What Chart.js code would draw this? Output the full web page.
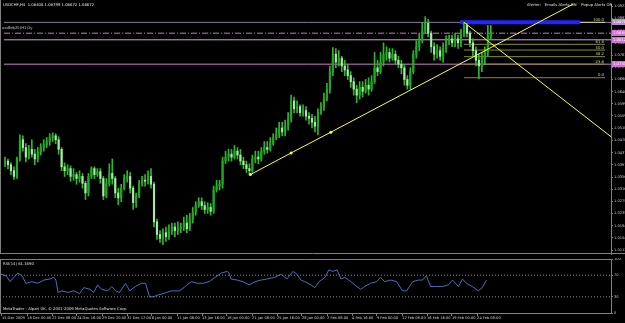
<!DOCTYPE html>
<html>
<head>
<meta charset="utf-8">
<script src="https://cdn.jsdelivr.net/npm/chart.js@4.4.1/dist/chart.umd.min.js"></script>
<style>
  html, body { margin: 0; padding: 0; background: #000; }
  #wrap { position: relative; width: 625px; height: 323px; overflow: hidden; background: #000; }
  #main { position: absolute; left: 0; top: 0; }
  #rsi { position: absolute; left: 0; top: 258px; }
</style>
</head>
<body>
<div id="wrap">
  <canvas id="main" width="625" height="258"></canvas>
  <canvas id="rsi" width="625" height="65"></canvas>
</div>
<script>
// USDCHF H4 candles (one entry per drawn bar)
const barOpen = [
  1.0400,1.0409,1.0397,1.0377,1.0358,1.0416,1.0480,1.0454,1.0422,1.0448,
  1.0432,1.0416,1.0438,1.0454,1.0464,1.0474,1.0487,1.0493,1.0480,1.0448,
  1.0390,1.0377,1.0384,1.0358,1.0364,1.0351,1.0358,1.0335,1.0303,1.0358,
  1.0384,1.0364,1.0374,1.0351,1.0293,1.0335,1.0368,1.0351,1.0303,1.0287,
  1.0319,1.0351,1.0358,1.0319,1.0271,1.0293,1.0335,1.0345,1.0342,1.0358,
  1.0332,1.0207,1.0165,1.0152,1.0171,1.0158,1.0174,1.0190,1.0178,1.0184,
  1.0190,1.0203,1.0184,1.0216,1.0239,1.0261,1.0274,1.0261,1.0248,1.0255,
  1.0242,1.0313,1.0326,1.0332,1.0409,1.0422,1.0432,1.0422,1.0442,1.0429,
  1.0409,1.0397,1.0384,1.0377,1.0416,1.0422,1.0416,1.0442,1.0454,1.0448,
  1.0467,1.0487,1.0496,1.0519,1.0506,1.0525,1.0551,1.0609,1.0583,1.0590,
  1.0570,1.0577,1.0558,1.0551,1.0538,1.0525,1.0570,1.0590,1.0615,1.0648,
  1.0706,1.0764,1.0738,1.0751,1.0725,1.0712,1.0693,1.0673,1.0648,1.0628,
  1.0654,1.0641,1.0661,1.0648,1.0673,1.0719,1.0706,1.0738,1.0764,1.0770,
  1.0751,1.0764,1.0744,1.0731,1.0719,1.0680,1.0661,1.0706,1.0764,1.0789,
  1.0809,1.0841,1.0867,1.0834,1.0789,1.0764,1.0776,1.0757,1.0783,1.0809,
  1.0815,1.0802,1.0815,1.0802,1.0834,1.0860,1.0834,1.0802,1.0776,1.0744,
  1.0725,1.0751,1.0770,1.0822
];
const barHigh = [
  1.0422,1.0416,1.0403,1.0390,1.0422,1.0496,1.0493,1.0467,1.0461,1.0480,
  1.0448,1.0454,1.0467,1.0480,1.0487,1.0500,1.0503,1.0500,1.0490,1.0454,
  1.0403,1.0397,1.0393,1.0384,1.0371,1.0377,1.0368,1.0342,1.0368,1.0390,
  1.0390,1.0384,1.0384,1.0358,1.0351,1.0400,1.0416,1.0358,1.0319,1.0332,
  1.0364,1.0377,1.0371,1.0326,1.0303,1.0345,1.0358,1.0364,1.0377,1.0384,
  1.0339,1.0216,1.0178,1.0184,1.0190,1.0197,1.0203,1.0203,1.0207,1.0203,
  1.0223,1.0229,1.0235,1.0255,1.0274,1.0287,1.0287,1.0274,1.0271,1.0268,
  1.0326,1.0345,1.0345,1.0422,1.0442,1.0448,1.0448,1.0461,1.0454,1.0448,
  1.0422,1.0409,1.0400,1.0429,1.0442,1.0442,1.0454,1.0474,1.0474,1.0487,
  1.0500,1.0519,1.0538,1.0538,1.0545,1.0570,1.0628,1.0622,1.0609,1.0596,
  1.0596,1.0590,1.0570,1.0564,1.0558,1.0583,1.0603,1.0635,1.0667,1.0725,
  1.0786,1.0783,1.0776,1.0757,1.0744,1.0731,1.0706,1.0686,1.0661,1.0673,
  1.0673,1.0680,1.0686,1.0693,1.0770,1.0744,1.0770,1.0802,1.0789,1.0783,
  1.0783,1.0776,1.0757,1.0744,1.0731,1.0693,1.0719,1.0776,1.0809,1.0834,
  1.0867,1.0889,1.0880,1.0841,1.0802,1.0796,1.0789,1.0802,1.0825,1.0828,
  1.0828,1.0834,1.0828,1.0847,1.0870,1.0867,1.0841,1.0815,1.0789,1.0764,
  1.0770,1.0789,1.0860,1.0860
];
const barLow = [
  1.0390,1.0384,1.0364,1.0348,1.0351,1.0409,1.0442,1.0406,1.0416,1.0422,
  1.0397,1.0406,1.0429,1.0442,1.0454,1.0461,1.0474,1.0467,1.0432,1.0377,
  1.0358,1.0364,1.0342,1.0345,1.0332,1.0339,1.0319,1.0281,1.0293,1.0351,
  1.0351,1.0358,1.0335,1.0281,1.0287,1.0326,1.0332,1.0287,1.0264,1.0274,
  1.0313,1.0339,1.0303,1.0248,1.0255,1.0287,1.0326,1.0326,1.0332,1.0319,
  1.0190,1.0149,1.0139,1.0132,1.0142,1.0149,1.0165,1.0158,1.0165,1.0171,
  1.0178,1.0171,1.0178,1.0203,1.0229,1.0255,1.0248,1.0235,1.0235,1.0229,
  1.0235,1.0306,1.0313,1.0319,1.0400,1.0409,1.0409,1.0416,1.0416,1.0397,
  1.0384,1.0371,1.0364,1.0371,1.0403,1.0400,1.0409,1.0432,1.0435,1.0442,
  1.0461,1.0480,1.0487,1.0493,1.0493,1.0512,1.0538,1.0570,1.0570,1.0558,
  1.0558,1.0545,1.0532,1.0519,1.0506,1.0496,1.0564,1.0577,1.0609,1.0635,
  1.0693,1.0719,1.0725,1.0706,1.0693,1.0680,1.0654,1.0628,1.0603,1.0615,
  1.0622,1.0635,1.0628,1.0641,1.0667,1.0693,1.0699,1.0725,1.0744,1.0738,
  1.0744,1.0731,1.0719,1.0699,1.0661,1.0648,1.0648,1.0699,1.0751,1.0776,
  1.0802,1.0834,1.0822,1.0770,1.0744,1.0751,1.0744,1.0738,1.0770,1.0796,
  1.0789,1.0789,1.0783,1.0789,1.0822,1.0822,1.0789,1.0757,1.0725,1.0683,
  1.0706,1.0731,1.0757,1.0815
];
const barClose = [
  1.0409,1.0397,1.0377,1.0358,1.0416,1.0480,1.0454,1.0422,1.0448,1.0432,
  1.0416,1.0438,1.0454,1.0464,1.0474,1.0487,1.0493,1.0480,1.0448,1.0390,
  1.0377,1.0384,1.0358,1.0364,1.0351,1.0358,1.0335,1.0303,1.0358,1.0384,
  1.0364,1.0374,1.0351,1.0293,1.0335,1.0368,1.0351,1.0303,1.0287,1.0319,
  1.0351,1.0358,1.0319,1.0271,1.0293,1.0335,1.0345,1.0342,1.0358,1.0332,
  1.0207,1.0165,1.0152,1.0171,1.0158,1.0174,1.0190,1.0178,1.0184,1.0190,
  1.0203,1.0184,1.0216,1.0239,1.0261,1.0274,1.0261,1.0248,1.0255,1.0242,
  1.0313,1.0326,1.0332,1.0409,1.0422,1.0432,1.0422,1.0442,1.0429,1.0409,
  1.0397,1.0384,1.0377,1.0416,1.0422,1.0416,1.0442,1.0454,1.0448,1.0467,
  1.0487,1.0496,1.0519,1.0506,1.0525,1.0551,1.0609,1.0583,1.0590,1.0570,
  1.0577,1.0558,1.0551,1.0538,1.0525,1.0570,1.0590,1.0615,1.0648,1.0706,
  1.0764,1.0738,1.0751,1.0725,1.0712,1.0693,1.0673,1.0648,1.0628,1.0654,
  1.0641,1.0661,1.0648,1.0673,1.0719,1.0706,1.0738,1.0764,1.0770,1.0751,
  1.0764,1.0744,1.0731,1.0719,1.0680,1.0661,1.0706,1.0764,1.0789,1.0809,
  1.0841,1.0867,1.0834,1.0789,1.0764,1.0776,1.0757,1.0783,1.0809,1.0815,
  1.0802,1.0815,1.0802,1.0834,1.0860,1.0834,1.0802,1.0776,1.0744,1.0725,
  1.0751,1.0770,1.0822,1.0834
];

// RSI(14) trace: bar position and value
const rsiBars = [0,1.7,3,4.3,5.6,7,8.3,10.3,12.3,14.3,16.3,17.6,18.3,19,20.3,22.3,24.2,26.2,27.6,29.6,
  30.9,32.2,33.5,35.5,36.9,38.2,39.5,41.5,42.9,44.8,46.8,48.2,49.5,50.8,52.1,54.1,56.8,59.5,61.4,63.4,
  65.4,67.4,69.4,71.4,73.4,75.4,76,76.7,78.7,80.7,82.7,84.7,86.7,88.7,91.3,93.3,95.3,97.3,98.6,100,
  101.3,103.3,104.6,106,108,109.3,110.6,112,113.3,114.6,116.6,118.6,119.9,121.2,123.2,125.2,126.5,127.9,129.9,131.9,
  133.8,135.2,137.2,139.2,140.5,141.8,143.2,145.1,147.1,149.1,150.5,152.5,153.8,155.1,157.1,159.1,160.4,161.8];
const rsiValues = [71.7,69,58,66,74,69,55,58,55,61,63,66,61,38,41,38,41,36,47,44,
  38,52,44,41,49,41,38,55,41,49,55,55,30,30,33,36,41,41,49,58,
  55,55,58,66,74,77,74,63,61,58,52,58,61,63,66,72,63,77,72,61,
  58,52,47,58,66,80,77,80,63,66,58,49,44,49,55,58,66,58,61,58,
  41,41,58,61,61,69,49,49,49,52,61,49,63,55,49,41,47,61];
const rsiLevels = [30, 70];
const rsiTicks = [0, 30, 70, 100];

// axes
const priceTicks = [1.0113,1.0154,1.0194,1.0235,1.0275,1.0316,1.0356,1.0397,1.0437,1.0478,
  1.0518,1.0559,1.0599,1.0640,1.0680,1.0721,1.0761,1.0802,1.0842,1.0883,1.0923];
const priceTickLabels = ['1.01130','1.01540','1.01940','1.02350','1.02750','1.03160','1.03560','1.03970',
  '1.04370','1.04780','1.05180','1.05590','1.05990','1.06400','1.06800','1.07210','1.07610','1.08020',
  '1.08420','1.08830','1.09230'];
const timeTickBars = [0.3,8.7,17,25.3,33.7,42,50.3,58.7,67,75.3,83.7,92,100.3,108.7,117,125.3,133.7,142,150.3,158.7];
const timeLabels = ['15 Dec 2009','18 Dec 00:00','22 Dec 08:00','24 Dec 16:00','29 Dec 20:00','31 Dec 12:00',
  '6 Jan 00:00','11 Jan 08:00','13 Jan 16:00','18 Jan 00:00','21 Jan 08:00','25 Jan 16:00','28 Jan 00:00',
  '2 Feb 08:00','4 Feb 16:00','9 Feb 00:00','12 Feb 08:00','16 Feb 16:00','19 Feb 00:00','24 Feb 08:00'];

// drawn objects
const hLinePrices = [1.0870, 1.0834, 1.0812, 1.0731];
const upTrendBars = [82.33, 96, 109.33, 190.67];
const upTrendPrices = [1.0364, 1.0436, 1.0505, 1.0931];
const downTrendBars = [154, 203.33];
const downTrendPrices = [1.0870, 1.0490];
const blueBandBars = [152.7, 193];
const blueBandPrice = 1.0870;
const fibBars = [154, 201.33];
const fibPrices = [1.0870, 1.0797, 1.0778, 1.0756, 1.0731, 1.0686];
const fibNames = ['100.0', '61.8', '50.0', '38.2', '23.6', '0.0'];

const xMin = -1 / 3, xMax = 203.33;
const tiny = '"DejaVu Sans", sans-serif';

const seg = (bars, vals) => bars.map((b, k) => ({ x: b, y: vals[k] }));
const flat = (bars, v) => bars.map(b => ({ x: b, y: v }));

const datasets = [];
hLinePrices.forEach((p, k) => {
  datasets.push({
    type: 'line', data: flat([xMin, xMax], p), pointRadius: 0, borderWidth: 1,
    borderColor: ['#8e7f95', '#c878c8', '#d8a0d8', '#d080d0'][k],
    borderDash: k === 1 ? [6, 2, 1, 2] : [], order: 5
  });
});
fibPrices.forEach((p, k) => {
  datasets.push({
    type: 'line', data: flat(fibBars, p), pointRadius: 0, borderWidth: 1,
    borderColor: k === 0 ? '#d8d0b0' : '#8c8c2a', order: 4
  });
});
datasets.push({
  type: 'line', data: flat(blueBandBars, blueBandPrice), pointRadius: 0,
  borderWidth: 4, borderColor: '#2424ff', order: 3
});
datasets.push({
  type: 'bar', data: barHigh.map((h, i) => ({ x: i, y: [barLow[i], h] })),
  backgroundColor: '#2cb82c', barThickness: 1, grouped: false, order: 2
});
datasets.push({
  type: 'bar', data: barOpen.map((o, i) => ({ x: i, y: [o, barClose[i]] })),
  backgroundColor: barOpen.map((o, i) => barClose[i] >= o ? '#22a822' : '#a8e8a8'),
  barThickness: 1.5, minBarLength: 1, grouped: false, order: 1
});
datasets.push({
  type: 'line', data: seg(upTrendBars, upTrendPrices), borderColor: '#ffff30', borderWidth: 1,
  pointRadius: [1.5, 1.5, 1.5, 0], pointBackgroundColor: '#ffff30', pointBorderWidth: 0, order: 0
});
datasets.push({
  type: 'line', data: seg(downTrendBars, downTrendPrices), borderColor: '#ffff30', borderWidth: 1,
  pointRadius: 0, order: 0
});

const mainOverlay = {
  id: 'mainOverlay',
  afterDraw(chart) {
    const { ctx, chartArea: a, scales: { x, y } } = chart;
    ctx.save();
    ctx.strokeStyle = '#808080';
    ctx.lineWidth = 1;
    ctx.beginPath();
    ctx.moveTo(0.5, 0); ctx.lineTo(0.5, a.bottom);
    ctx.moveTo(0, a.bottom - 0.5); ctx.lineTo(625, a.bottom - 0.5);
    ctx.stroke();

    ctx.font = '3.8px ' + tiny;
    ctx.textBaseline = 'middle';
    ctx.textAlign = 'left';
    ctx.fillStyle = '#e8e8e8';
    ctx.fillText('USDCHF,H4  1.08408 1.08799 1.08672 1.08672', 3, 5);
    ctx.fillStyle = '#e8e2b8';
    ctx.fillText('Alerter:   Emails Alerts ON    Popup Alerts ON', 527, 5.5);
    ctx.fillStyle = '#c0c0d0';
    ctx.fillText('usdfeb25(H1)1y', 2, 28);

    ctx.textAlign = 'right';
    ctx.textBaseline = 'bottom';
    ctx.fillStyle = '#d8d8a8';
    const fx = x.getPixelForValue(fibBars[1]) - 1;
    fibPrices.forEach((p, k) => ctx.fillText(fibNames[k], fx, y.getPixelForValue(p) - 0.5));

    ctx.textAlign = 'left';
    ctx.textBaseline = 'middle';
    hLinePrices.forEach((p, k) => {
      const py = Math.round(y.getPixelForValue(p));
      ctx.fillStyle = k === 0 ? '#b090c0' : '#d070d0';
      ctx.fillRect(a.right + 1, py - 3, 14, 6);
      ctx.fillStyle = '#ffffff';
      ctx.fillText(p.toFixed(5), a.right + 2, py);
    });
    ctx.restore();
  }
};

new Chart(document.getElementById('main'), {
  type: 'bar',
  data: { datasets },
  options: {
    responsive: false, animation: false, devicePixelRatio: 1, events: [],
    layout: { padding: 0 },
    plugins: { legend: { display: false }, tooltip: { enabled: false } },
    scales: {
      x: { type: 'linear', min: xMin, max: xMax, offset: false, display: false },
      y: {
        position: 'right', min: 1.01002, max: 1.0931,
        grid: { drawOnChartArea: false, tickLength: 2, color: '#808080' },
        border: { color: '#808080' },
        ticks: { color: '#c8c8c8', font: { size: 3.6, family: tiny }, padding: 1, autoSkip: false,
          callback: (v, k) => priceTickLabels[k] },
        afterBuildTicks: s => { s.ticks = priceTicks.map(v => ({ value: v })); },
        afterFit: s => { s.width = 14; s.paddingTop = 0; s.paddingBottom = 0; }
      }
    }
  },
  plugins: [mainOverlay]
});

const rsiOverlay = {
  id: 'rsiOverlay',
  afterDraw(chart) {
    const { ctx, chartArea: a } = chart;
    ctx.save();
    ctx.strokeStyle = '#808080';
    ctx.lineWidth = 1;
    ctx.beginPath();
    ctx.moveTo(0.5, a.top); ctx.lineTo(0.5, a.bottom);
    ctx.moveTo(0, a.top + 0.5); ctx.lineTo(a.right, a.top + 0.5);
    ctx.stroke();
    ctx.font = '3.8px ' + tiny;
    ctx.textBaseline = 'middle';
    ctx.fillStyle = '#e0e0e0';
    ctx.fillText('RSI(14) 61.1690', 3, a.top + 5);
    ctx.fillText('MetaTrader - Alpari UK, \u00a9 2001-2009 MetaQuotes Software Corp.', 3, a.bottom - 4);
    ctx.restore();
  }
};

const rsiDatasets = rsiLevels.map(l => ({
  type: 'line', data: flat([xMin, xMax], l), pointRadius: 0, borderWidth: 1,
  borderColor: '#8a8a8a', borderDash: [1, 2]
}));
rsiDatasets.push({
  type: 'line', data: seg(rsiBars, rsiValues), pointRadius: 0, borderWidth: 1,
  borderColor: '#4a6fb8', tension: 0
});

new Chart(document.getElementById('rsi'), {
  type: 'line',
  data: { datasets: rsiDatasets },
  options: {
    responsive: false, animation: false, devicePixelRatio: 1, events: [],
    layout: { padding: { top: 1 } },
    plugins: { legend: { display: false }, tooltip: { enabled: false } },
    scales: {
      x: {
        type: 'linear', min: xMin, max: xMax, offset: false, position: 'bottom',
        grid: { drawOnChartArea: false, tickLength: 3, color: '#808080' },
        border: { color: '#808080' },
        ticks: { color: '#d0d0d0', font: { size: 3.6, family: tiny }, padding: 0, align: 'start',
          autoSkip: false, maxRotation: 0, minRotation: 0, callback: (v, k) => timeLabels[k] },
        afterBuildTicks: s => { s.ticks = timeTickBars.map(v => ({ value: v })); },
        afterFit: s => { s.height = 10; s.paddingLeft = 0; s.paddingRight = 0; }
      },
      y: {
        position: 'right', min: 0, max: 100,
        grid: { drawOnChartArea: false, tickLength: 2, color: '#808080' },
        border: { color: '#808080' },
        ticks: { color: '#c8c8c8', font: { size: 3.6, family: tiny }, padding: 1, autoSkip: false },
        afterBuildTicks: s => { s.ticks = rsiTicks.map(v => ({ value: v })); },
        afterFit: s => { s.width = 14; s.paddingTop = 0; s.paddingBottom = 0; }
      }
    }
  },
  plugins: [rsiOverlay]
});
</script>
</body>
</html>
